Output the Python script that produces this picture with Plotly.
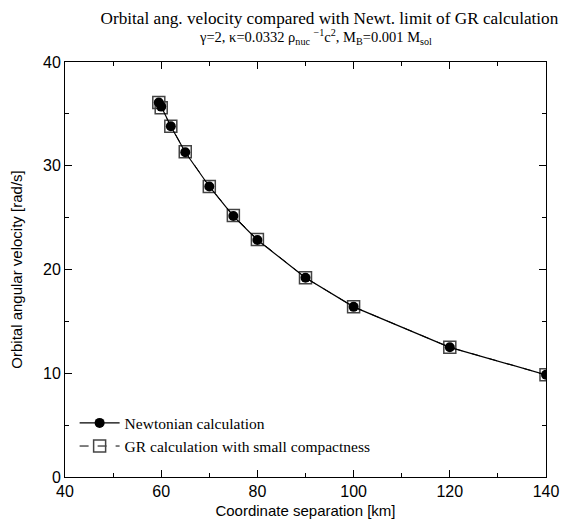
import plotly.graph_objects as go

# Data
separation = [59.5, 60, 62, 65, 70, 75, 80, 90, 100, 120, 140]
omega_newt = [36.1, 35.7, 33.8, 31.3, 28.0, 25.15, 22.85, 19.2, 16.4, 12.5, 9.85]
omega_gr = [36.1, 35.6, 33.8, 31.35, 28.0, 25.2, 22.9, 19.2, 16.4, 12.5, 9.85]

fig = go.Figure()

# GR calculation drawn first so the filled circles sit on top
fig.add_trace(go.Scatter(
    x=separation,
    y=omega_gr,
    mode='lines+markers',
    name='GR calculation with small compactness',
    line=dict(color='black', width=1, dash='dash'),
    marker=dict(symbol='square-open', size=12, color='#444444', line=dict(width=1.5)),
    legendrank=2
))

fig.add_trace(go.Scatter(
    x=separation,
    y=omega_newt,
    mode='lines+markers',
    name='Newtonian calculation',
    line=dict(color='black', width=1.2),
    marker=dict(symbol='circle', size=10, color='black'),
    legendrank=1
))

axis_style = dict(
    showline=True,
    linecolor='black',
    linewidth=1,
    mirror='ticks',
    ticks='inside',
    ticklen=7,
    tickcolor='black',
    showgrid=False,
    zeroline=False,
    automargin=False,
    tickfont=dict(family='Liberation Sans, Arial', size=16, color='black'),
)

fig.update_xaxes(
    range=[40, 140],
    dtick=20,
    minor=dict(ticks='inside', dtick=10, ticklen=4, tickcolor='black'),
    title=dict(text='Coordinate separation [km]',
               font=dict(family='Liberation Sans, Arial', size=15, color='black'),
               standoff=6),
    **axis_style
)

fig.update_yaxes(
    range=[0, 40],
    dtick=10,
    minor=dict(ticks='inside', dtick=5, ticklen=4, tickcolor='black'),
    title=dict(text='Orbital angular velocity [rad/s]',
               font=dict(family='Liberation Sans, Arial', size=15, color='black'),
               standoff=25),
    **axis_style
)

# page body adds an 8px offset, so the figure is sized to the visible area
fig.update_layout(
    width=574,
    height=517,
    margin=dict(l=57, r=36, t=54, b=48),
    plot_bgcolor='white',
    paper_bgcolor='white',
    title=dict(
        text='Orbital ang. velocity compared with Newt. limit of GR calculation',
        x=0.56,
        xanchor='center',
        y=0.993,
        yanchor='top',
        font=dict(family='Liberation Serif, Times New Roman', size=17.2, color='black')
    ),
    annotations=[
        dict(
            text='γ=2, κ=0.0332 ρ<sub>nuc</sub> <sup>−1</sup>c<sup>2</sup>, M<sub>B</sub>=0.001 M<sub>sol</sub>',
            xref='paper', yref='paper',
            x=0.52, y=1.032,
            xanchor='center', yanchor='bottom',
            showarrow=False,
            font=dict(family='Liberation Serif, Times New Roman', size=14.5, color='black')
        )
    ],
    legend=dict(
        x=0.02,
        y=0.033,
        xanchor='left',
        yanchor='bottom',
        bgcolor='rgba(0,0,0,0)',
        font=dict(family='Liberation Serif, Times New Roman', size=15.5, color='black'),
        itemwidth=40,
        tracegroupgap=2
    ),
    showlegend=True
)

fig.write_html("out.html")
